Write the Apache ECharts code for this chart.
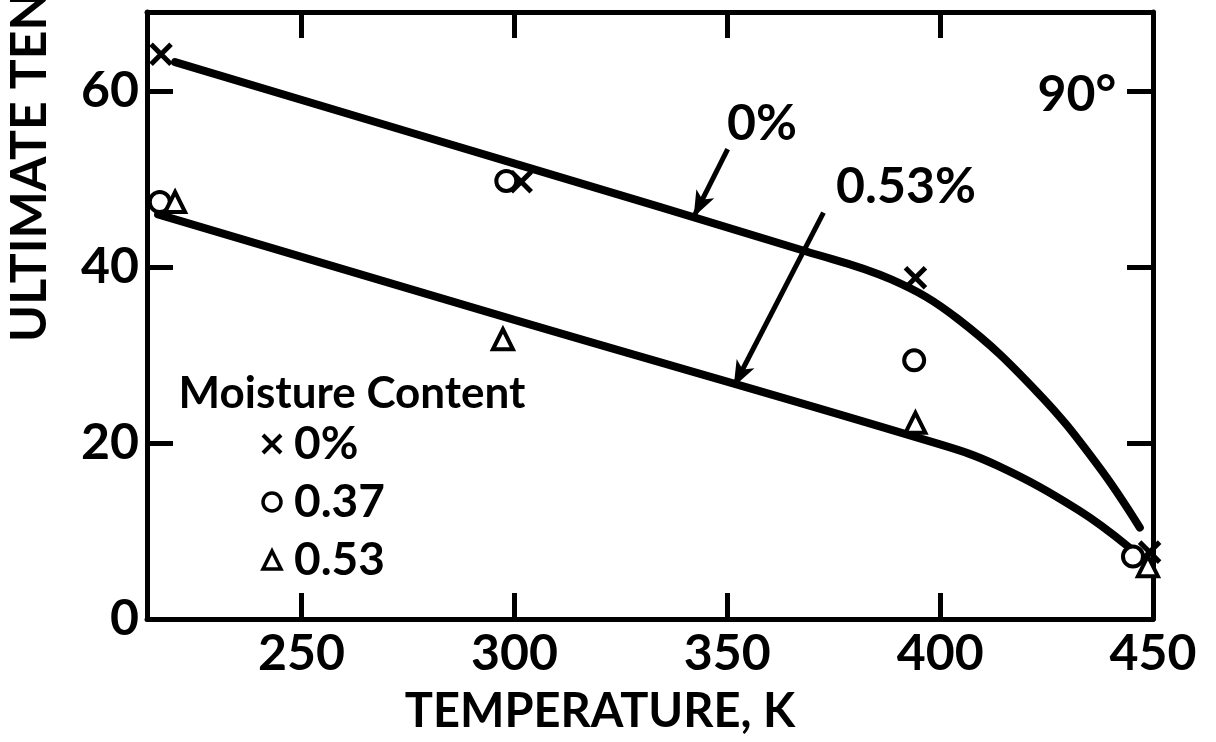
<!DOCTYPE html>
<html>
<head>
<meta charset="utf-8">
<script src="https://cdn.jsdelivr.net/npm/echarts@6/dist/echarts.min.js"></script>
<style>
html,body{margin:0;padding:0;background:#fff;}
#chart{width:1216px;height:742px;}
</style>
</head>
<body>
<div id="chart"></div>
<script>
// Tick labels
const tempTicks = [250, 300, 350, 400, 450];
const strengthTicks = [0, 20, 40, 60];

// Measured points (temperature K, ultimate tensile strength)
const dryTemp = [217.0, 301.6, 394.2, 449.2];
const dryStrength = [64.2, 49.7, 38.8, 7.6];
const m037Temp = [216.7, 298.1, 393.9, 445.3];
const m037Strength = [47.4, 49.8, 29.4, 7.1];
const m053Temp = [220.3, 297.3, 394.2, 448.8];
const m053Strength = [47.4, 31.8, 22.3, 6.0];

// Fitted curves
const curveDryTemp = [220.3, 300.5, 368.4, 388.5, 404.2, 423.0, 437.0, 446.9];
const curveDryStrength = [63.3, 51.7, 41.8, 38.6, 34.1, 25.7, 17.5, 10.4];
const curveWetTemp = [216.3, 300.0, 399.6, 413.6, 432.4, 444.5];
const curveWetStrength = [46.0, 34.0, 19.9, 17.4, 12.4, 8.1];

// Arrow annotations (tail -> head)
const arrowDry = [[350.1, 53.4], [342.1, 45.7]];
const arrowWet = [[372.6, 46.2], [351.5, 26.4]];

const zip = (a, b) => a.map((v, i) => [v, b[i]]);
const FONT = 'Lato';
const crossPath = 'path://M0,0L10,10M10,0L0,10';

const chart = echarts.init(document.getElementById('chart'));
const axisLine = {show: true, onZero: false, lineStyle: {color: '#000', width: 5}};
const tick = {show: true, inside: true, length: 26, lineStyle: {color: '#000', width: 5}};

chart.setOption({
  animation: false,
  backgroundColor: '#fff',
  grid: {left: 147, right: 63, top: 12, bottom: 123, containLabel: false},
  xAxis: [
    {type: 'value', min: 213.7, max: 450, position: 'bottom',
     axisLine: axisLine, splitLine: {show: false},
     axisTick: Object.assign({}, tick, {customValues: tempTicks}),
     axisLabel: {customValues: tempTicks, color: '#000', fontFamily: FONT, fontWeight: 'bold', fontSize: 50, margin: 10}},
    {type: 'value', min: 213.7, max: 450, position: 'top',
     axisLine: axisLine, splitLine: {show: false},
     axisTick: Object.assign({}, tick, {customValues: tempTicks}),
     axisLabel: {show: false}}
  ],
  yAxis: [
    {type: 'value', min: 0, max: 69, position: 'left',
     axisLine: axisLine, splitLine: {show: false},
     axisTick: Object.assign({}, tick, {customValues: strengthTicks}),
     axisLabel: {customValues: strengthTicks, color: '#000', fontFamily: FONT, fontWeight: 'bold', fontSize: 50, margin: 8}},
    {type: 'value', min: 0, max: 69, position: 'right',
     axisLine: axisLine, splitLine: {show: false},
     axisTick: Object.assign({}, tick, {customValues: strengthTicks}),
     axisLabel: {show: false}}
  ],
  legend: {
    orient: 'vertical', left: 256, top: 416, itemGap: 12,
    itemWidth: 18, itemHeight: 18, selectedMode: false,
    textStyle: {color: '#000', fontFamily: FONT, fontWeight: 'bold', fontSize: 46, lineHeight: 40, padding: [0, 0, 0, 8]},
    data: [
      {name: '0%', icon: crossPath, itemStyle: {color: 'transparent', borderColor: '#000', borderWidth: 4, opacity: 1}},
      {name: '0.37', icon: 'circle', itemStyle: {color: '#fff', borderColor: '#000', borderWidth: 3.5, opacity: 1}},
      {name: '0.53', icon: 'triangle', itemStyle: {color: '#fff', borderColor: '#000', borderWidth: 3.5, opacity: 1}}
    ]
  },
  series: [
    {type: 'line', name: 'curve0', data: zip(curveDryTemp, curveDryStrength), smooth: 0.4,
     showSymbol: false, symbol: 'none', lineStyle: {color: '#000', width: 8, cap: 'round'}, z: 3,
     markLine: {silent: true, symbol: ['none', 'arrow'], symbolSize: [15, 26], label: {show: false},
       lineStyle: {color: '#000', width: 5, type: 'solid'},
       data: [[{coord: arrowDry[0]}, {coord: arrowDry[1]}], [{coord: arrowWet[0]}, {coord: arrowWet[1]}]]}},
    {type: 'line', name: 'curve053', data: zip(curveWetTemp, curveWetStrength), smooth: 0.4,
     showSymbol: false, symbol: 'none', lineStyle: {color: '#000', width: 8, cap: 'round'}, z: 3},
    {type: 'scatter', name: '0%', data: zip(dryTemp, dryStrength), symbol: crossPath, symbolSize: 20,
     itemStyle: {color: 'transparent', borderColor: '#000', borderWidth: 5, opacity: 1}, z: 4},
    {type: 'scatter', name: '0.37', data: zip(m037Temp, m037Strength), symbol: 'circle', symbolSize: 20,
     itemStyle: {color: '#fff', borderColor: '#000', borderWidth: 4, opacity: 1}, z: 4},
    {type: 'scatter', name: '0.53', data: zip(m053Temp, m053Strength), symbol: 'triangle', symbolSize: 20,
     itemStyle: {color: '#fff', borderColor: '#000', borderWidth: 4, opacity: 1}, z: 4}
  ],
  graphic: [
    {type: 'text', x: 30, y: 342, rotation: Math.PI / 2,
     style: {text: 'ULTIMATE TENSILE STRENGTH, MPa', font: 'bold 50px ' + FONT, fill: '#000', align: 'left', verticalAlign: 'middle'}},
    {type: 'text', x: 600, y: 712,
     style: {text: 'TEMPERATURE, K', font: 'bold 47px ' + FONT, fill: '#000', align: 'center', verticalAlign: 'middle'}},
    {type: 'text', x: 352, y: 394,
     style: {text: 'Moisture Content', font: 'bold 44px ' + FONT, fill: '#000', align: 'center', verticalAlign: 'middle'}},
    {type: 'text', x: 762, y: 124,
     style: {text: '0%', font: 'bold 50px ' + FONT, fill: '#000', align: 'center', verticalAlign: 'middle'}},
    {type: 'text', x: 906, y: 187,
     style: {text: '0.53%', font: 'bold 50px ' + FONT, fill: '#000', align: 'center', verticalAlign: 'middle'}},
    {type: 'text', x: 1077, y: 95,
     style: {text: '90°', font: 'bold 50px ' + FONT, fill: '#000', align: 'center', verticalAlign: 'middle'}}
  ]
});
</script>
</body>
</html>
